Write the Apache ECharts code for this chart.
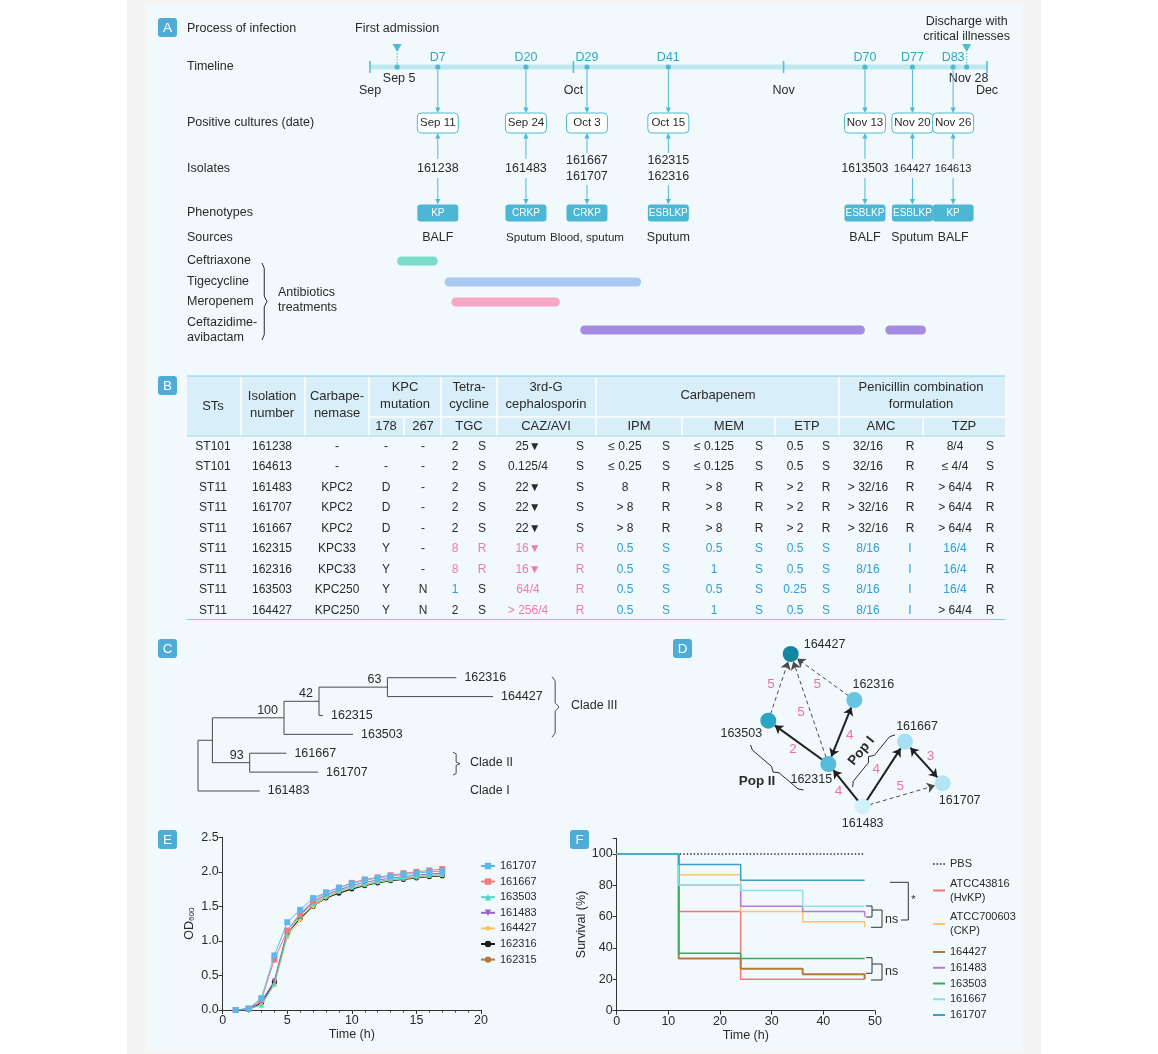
<!DOCTYPE html>
<html>
<head>
<meta charset="utf-8">
<title>Course of infection, MICs, phylogeny, transmission, growth and virulence</title>
<script src="https://cdn.jsdelivr.net/npm/echarts@6/dist/echarts.min.js"></script>
<style>
html,body{margin:0;padding:0;background:#ffffff;}
#chart{width:1158px;height:1054px;}
</style>
</head>
<body>
<div id="chart"></div>
<script>
// ======================= DATA =======================
// ---- Panel A (days counted from Sep 1 = day 0) ----
const monthNames = ['Sep', 'Oct', 'Nov', 'Dec'];
const monthStartDays = [0, 30, 61, 91];
const admissionDay = 4;            // Sep 5
const admissionDate = 'Sep 5';
const dischargeDay = 88;           // Nov 28
const dischargeDate = 'Nov 28';
const eventDays = [10, 23, 32, 44, 73, 80, 86];
const eventLabels = ['D7', 'D20', 'D29', 'D41', 'D70', 'D77', 'D83'];
const cultureDates = ['Sep 11', 'Sep 24', 'Oct 3', 'Oct 15', 'Nov 13', 'Nov 20', 'Nov 26'];
const eventIsolates = [['161238'], ['161483'], ['161667', '161707'], ['162315', '162316'], ['1613503'], ['164427'], ['164613']];
const phenotypes = ['KP', 'CRKP', 'CRKP', 'ESBLKP', 'ESBLKP', 'ESBLKP', 'KP'];
const sources = ['BALF', 'Sputum', 'Blood, sputum', 'Sputum', 'BALF', 'Sputum', 'BALF'];
const antibiotics = ['Ceftriaxone', 'Tigecycline', 'Meropenem', 'Ceftazidime-\navibactam'];
const treatmentDrug = [0, 1, 2, 3, 3];
const treatmentStart = [4, 11, 12, 31, 76];
const treatmentEnd = [10, 40, 28, 73, 82];

// ---- Panel B (MIC table) ----
const tableSTs = ['ST101', 'ST101', 'ST11', 'ST11', 'ST11', 'ST11', 'ST11', 'ST11', 'ST11'];
const tableIsolates = ['161238', '164613', '161483', '161707', '161667', '162315', '162316', '163503', '164427'];
const carbapenemase = ['-', '-', 'KPC2', 'KPC2', 'KPC2', 'KPC33', 'KPC33', 'KPC250', 'KPC250'];
const kpc178 = ['-', '-', 'D', 'D', 'D', 'Y', 'Y', 'Y', 'Y'];
const kpc267 = ['-', '-', '-', '-', '-', '-', '-', 'N', 'N'];
const tgcMIC = ['2', '2', '2', '2', '2', '8', '8', '1', '2'];
const tgcSIR = ['S', 'S', 'S', 'S', 'S', 'R', 'R', 'S', 'S'];
const cazMIC = ['25\u25BC', '0.125/4', '22\u25BC', '22\u25BC', '22\u25BC', '16\u25BC', '16\u25BC', '64/4', '> 256/4'];
const cazSIR = ['S', 'S', 'S', 'S', 'S', 'R', 'R', 'R', 'R'];
const ipmMIC = ['\u2264 0.25', '\u2264 0.25', '8', '> 8', '> 8', '0.5', '0.5', '0.5', '0.5'];
const ipmSIR = ['S', 'S', 'R', 'R', 'R', 'S', 'S', 'S', 'S'];
const memMIC = ['\u2264 0.125', '\u2264 0.125', '> 8', '> 8', '> 8', '0.5', '1', '0.5', '1'];
const memSIR = ['S', 'S', 'R', 'R', 'R', 'S', 'S', 'S', 'S'];
const etpMIC = ['0.5', '0.5', '> 2', '> 2', '> 2', '0.5', '0.5', '0.25', '0.5'];
const etpSIR = ['S', 'S', 'R', 'R', 'R', 'S', 'S', 'S', 'S'];
const amcMIC = ['32/16', '32/16', '> 32/16', '> 32/16', '> 32/16', '8/16', '8/16', '8/16', '8/16'];
const amcSIR = ['R', 'R', 'R', 'R', 'R', 'I', 'I', 'I', 'I'];
const tzpMIC = ['8/4', '\u2264 4/4', '> 64/4', '> 64/4', '> 64/4', '16/4', '16/4', '16/4', '> 64/4'];
const tzpSIR = ['S', 'S', 'R', 'R', 'R', 'R', 'R', 'R', 'R'];
// change markers per row: '+' raised resistance, '-' lowered, '.' unchanged
const tgcMICChange = '.....++-.', tgcSIRChange = '.....++..';
const cazMICChange = '.....++++', cazSIRChange = '.....++++';
const carbMICChange = '.....----', carbSIRChange = '.....----';
const amcMICChange = '.....----', amcSIRChange = '.....----';
const tzpMICChange = '.....---.', tzpSIRChange = '.........';

// ---- Panel C (phylogeny) ----
const treeNodeIds = ['root', 'n1', 'n2', 'n3', 'n4', '162316', '164427', '162315', '163503', 'n5', '161667', '161707', '161483'];
const treeParents = [null, 'root', 'n1', 'n2', 'n3', 'n4', 'n4', 'n3', 'n2', 'n1', 'n5', 'n5', 'root'];
const treeBranchLength = [0, 0.144, 0.716, 0.35, 0.684, 0.69, 1.056, 0.04, 0.69, 0.373, 0.367, 0.683, 0.617];
const treeSupport = [null, null, 100, 42, 63, null, null, null, null, 93, null, null, null];
const cladeNames = ['Clade III', 'Clade II', 'Clade I'];
const cladeLeaves = [['162316', '164427', '162315', '163503'], ['161667', '161707'], ['161483']];

// ---- Panel D (transmission network, layout) ----
const netNodes = ['164427', '162316', '163503', '161667', '162315', '161707', '161483'];
const netNodeX = [90.7, 154.3, 68.3, 205, 128.3, 242.7, 162.7];
const netNodeY = [14, 60, 80.7, 101.7, 124, 143.3, 166.7];
const netEdgeFrom = ['163503', '162315', '162316', '162315', '162315', '161483', '161483', '161667', '161483'];
const netEdgeTo = ['164427', '164427', '164427', '162316', '163503', '162315', '161667', '161707', '161707'];
const netEdgeSNPs = [5, 5, 5, 4, 2, 4, 4, 3, 5];
const netEdgeInferred = [true, true, true, false, false, false, false, false, true];
const netEdgeBidirectional = [false, false, false, true, false, false, false, true, false];

// ---- Panel E (growth curves, OD600) ----
const growthHours = [1, 2, 3, 4, 5, 6, 7, 8, 9, 10, 11, 12, 13, 14, 15, 16, 17];
const growthStrains = ['161707', '161667', '163503', '161483', '164427', '162316', '162315'];
const od161707 = [0.00, 0.02, 0.17, 0.79, 1.27, 1.45, 1.62, 1.70, 1.77, 1.83, 1.88, 1.91, 1.94, 1.96, 1.98, 2.00, 2.01];
const od161667 = [0.00, 0.02, 0.15, 0.73, 1.15, 1.40, 1.58, 1.70, 1.77, 1.84, 1.89, 1.92, 1.95, 1.98, 2.00, 2.02, 2.04];
const od163503 = [0.00, 0.01, 0.07, 0.38, 1.10, 1.37, 1.54, 1.65, 1.72, 1.78, 1.82, 1.86, 1.89, 1.91, 1.93, 1.95, 1.96];
const od161483 = [0.00, 0.02, 0.12, 0.42, 1.15, 1.38, 1.56, 1.67, 1.74, 1.80, 1.85, 1.88, 1.91, 1.93, 1.95, 1.97, 1.98];
const od164427 = [0.00, 0.01, 0.08, 0.36, 1.05, 1.30, 1.50, 1.63, 1.71, 1.77, 1.81, 1.85, 1.88, 1.90, 1.92, 1.94, 1.95];
const od162316 = [0.00, 0.01, 0.10, 0.40, 1.10, 1.33, 1.50, 1.62, 1.69, 1.75, 1.80, 1.84, 1.87, 1.89, 1.91, 1.93, 1.94];
const od162315 = [0.00, 0.01, 0.09, 0.42, 1.12, 1.32, 1.52, 1.63, 1.70, 1.76, 1.81, 1.85, 1.88, 1.90, 1.92, 1.94, 1.95];

// ---- Panel F (survival, %) ----
const survivalHours = [0, 12, 24, 36, 48];
const survivalGroups = ['PBS', 'ATCC43816 (HvKP)', 'ATCC700603 (CKP)', '164427', '161483', '163503', '161667', '161707'];
const survPBS = [100, 100, 100, 100, 100];
const survATCC43816 = [100, 63.3, 20, 20, 20];
const survATCC700603 = [100, 86.7, 63.3, 56.7, 53.3];
const surv164427 = [100, 33.3, 26.7, 23.3, 20];
const surv161483 = [100, 80, 66.7, 63.3, 60];
const surv163503 = [100, 36.7, 33.3, 33.3, 33.3];
const surv161667 = [100, 80, 76.7, 66.7, 66.7];
const surv161707 = [100, 93.3, 83.3, 83.3, 83.3];

// ======================= STYLE / LAYOUT =======================
const FONT = '"Liberation Sans", Arial, Helvetica, sans-serif';
const INK = '#2a2a2a';
const CYAN = '#4fb9d2';
const TEAL_TXT = '#2ea8bf';
const PINK = '#f07ba6';
const BLUE = '#2f9fd6';
const fnt = (s, w) => (w || 'normal') + ' ' + s + 'px ' + FONT;

const measureCtx = document.createElement('canvas').getContext('2d');
function textWidth(s, size) {
  measureCtx.font = size + 'px ' + FONT;
  return Math.max.apply(null, String(s).split('\n').map(l => measureCtx.measureText(l).width));
}
// largest font (<= base) for label i so that it does not collide with its centred neighbours
function labelFont(labels, xs, i, base, pad) {
  let f = base;
  [i - 1, i + 1].forEach(j => {
    if (j < 0 || j >= xs.length) return;
    const w = (textWidth(labels[i], base) + textWidth(labels[j], base)) / 2;
    const gap = Math.abs(xs[j] - xs[i]);
    if (w + pad > gap) f = Math.min(f, base * (gap - pad) / w);
  });
  return Math.round(f * 10) / 10;
}

function txt(x, y, text, size, o) {
  o = o || {};
  const st = { text: text, fill: o.fill || INK, font: fnt(size, o.weight),
    align: o.align || 'center', textAlign: o.align || 'center',
    verticalAlign: o.va || 'middle', textVerticalAlign: o.va || 'middle' };
  if (o.lineHeight) st.lineHeight = o.lineHeight;
  const el = { type: 'text', x: x, y: y, style: st };
  if (o.rotation) el.rotation = o.rotation;
  if (o.z != null) el.z = o.z;
  return el;
}
function arrowEls(x, y1, y2, color) {
  const d = y2 > y1 ? 1 : -1;
  return [
    { type: 'line', shape: { x1: x, y1: y1, x2: x, y2: y2 - d * 4 }, style: { stroke: color, lineWidth: 1 } },
    { type: 'polygon', shape: { points: [[x - 2.6, y2 - d * 5.5], [x + 2.6, y2 - d * 5.5], [x, y2]] }, style: { fill: color } }
  ];
}
// brace along P1->P2 bulging by depth toward normal side (sign)
function bracePts(p1, p2, depth, sign) {
  const dx = p2[0] - p1[0], dy = p2[1] - p1[1], L = Math.hypot(dx, dy);
  const nx = -dy / L * sign, ny = dx / L * sign;
  const prof = [[0, 0], [0.07, 0.45], [0.43, 0.45], [0.5, 1], [0.57, 0.45], [0.93, 0.45], [1, 0]];
  return prof.map(p => [p1[0] + dx * p[0] + nx * depth * p[1], p1[1] + dy * p[0] + ny * depth * p[1]]);
}

// ---------- graphic (backgrounds, labels, headers, annotations) ----------
const G = [];
G.push({ type: 'rect', z: -20, shape: { x: 127, y: 0, width: 914, height: 1054 }, style: { fill: '#f4f4f4' } });
G.push({ type: 'rect', z: -19, shape: { x: 147, y: 5, width: 874, height: 1046 }, style: { fill: '#f1f9fd' } });
[['A', 158, 18], ['B', 158, 376], ['C', 158, 639], ['D', 673, 639], ['E', 158, 830], ['F', 570, 830]].forEach(b => {
  G.push({ type: 'rect', z: 5, shape: { x: b[1], y: b[2], width: 19, height: 19, r: 3 }, style: { fill: '#4eacd7' } });
  G.push(txt(b[1] + 9.5, b[2] + 10, b[0], 13.5, { fill: '#ffffff', z: 6 }));
});
// Panel A row labels
[['Process of infection', 29], ['Timeline', 67], ['Positive cultures (date)', 123], ['Isolates', 169], ['Phenotypes', 213], ['Sources', 238]]
  .forEach(r => G.push(txt(187, r[1], r[0], 12.5, { align: 'left', z: 10 })));
const drugRowY = [261, 282, 302, 330];
antibiotics.forEach((d, i) => G.push(txt(187, drugRowY[i], d, 12.5, { align: 'left', lineHeight: 15, z: 10 })));
G.push({ type: 'polyline', z: 10, shape: { points: bracePts([262, 263], [262, 340], 5, -1) }, style: { stroke: INK, lineWidth: 1, fill: null } });
G.push(txt(278, 300.5, 'Antibiotics\ntreatments', 12.5, { align: 'left', lineHeight: 15, z: 10 }));

// Panel B header
G.push({ type: 'rect', z: -5, shape: { x: 187, y: 376, width: 818, height: 60 }, style: { fill: '#d8eef8' } });
G.push({ type: 'line', z: -4, shape: { x1: 187, y1: 376, x2: 1005, y2: 376 }, style: { stroke: '#86cbe4', lineWidth: 1.2 } });
G.push({ type: 'line', z: -4, shape: { x1: 187, y1: 436, x2: 1005, y2: 436 }, style: { stroke: '#9fd6ea', lineWidth: 1 } });
G.push({ type: 'line', z: -4, shape: { x1: 187, y1: 619.5, x2: 1005, y2: 619.5 }, style: { stroke: '#86cbe4', lineWidth: 1.2 } });
[241, 305, 369, 441, 497, 596, 839].forEach(x => G.push({ type: 'line', z: -4, shape: { x1: x, y1: 377, x2: x, y2: 435.5 }, style: { stroke: '#ffffff', lineWidth: 1.5 } }));
G.push({ type: 'line', z: -4, shape: { x1: 369, y1: 417, x2: 1005, y2: 417 }, style: { stroke: '#ffffff', lineWidth: 1.5 } });
[404, 682, 775, 923].forEach(x => G.push({ type: 'line', z: -4, shape: { x1: x, y1: 417, x2: x, y2: 435.5 }, style: { stroke: '#ffffff', lineWidth: 1.5 } }));
[['STs', 213, 406], ['Isolation\nnumber', 272, 405], ['Carbape-\nnemase', 337, 405], ['KPC\nmutation', 405, 395.5], ['Tetra-\ncycline', 469, 395.5],
 ['3rd-G\ncephalosporin', 546, 395.5], ['Carbapenem', 718, 395.5], ['Penicillin combination\nformulation', 921, 395.5],
 ['178', 386, 426.5], ['267', 423, 426.5], ['TGC', 469, 426.5], ['CAZ/AVI', 546, 426.5], ['IPM', 639, 426.5], ['MEM', 729, 426.5],
 ['ETP', 807, 426.5], ['AMC', 881, 426.5], ['TZP', 964, 426.5]]
  .forEach(h => G.push(txt(h[1], h[2], h[0], 13, { lineHeight: 17, z: 10 })));

// Panel D annotations
G.push(txt(861.5, 751, 'Pop I', 13.5, { weight: 'bold', rotation: 0.88, z: 10 }));
G.push({ type: 'polyline', z: 10, shape: { points: bracePts([852.7, 787], [895, 735], 7, -1) }, style: { stroke: INK, lineWidth: 1, fill: null } });
G.push(txt(757, 781, 'Pop II', 13.5, { weight: 'bold', z: 10 }));
G.push({ type: 'polyline', z: 10, shape: { points: bracePts([750.5, 745], [803.5, 790], 6, 1) }, style: { stroke: INK, lineWidth: 1, fill: null } });

// Panel F significance brackets
const BR = '#333';
[[[866, 906], [872, 906], [872, 917], [866, 917]], [[872, 910], [882, 910], [882, 927.3], [871, 927.3]],
 [[890, 882.3], [908.3, 882.3], [908.3, 920], [901, 920]],
 [[866, 957.7], [872, 957.7], [872, 973.3], [866, 973.3]], [[872, 964], [882, 964], [882, 980], [871, 980]]]
  .forEach(p => G.push({ type: 'polyline', z: 10, shape: { points: p }, style: { stroke: BR, lineWidth: 1, fill: null } }));
G.push(txt(885, 919.5, 'ns', 12.5, { align: 'left', z: 10 }));
G.push(txt(885, 972, 'ns', 12.5, { align: 'left', z: 10 }));
G.push(txt(913.5, 900, '*', 11, { z: 10 }));

// ======================= SERIES =======================
const Y = { capt: 29, dlab: 58, tl: 67, sub: 79, month: 91, cult: 123, iso: 169, phen: 213, src: 238 };
const drugColors = ['#7adccb', '#a9c8f2', '#f7a7c6', '#a68ce0'];
const series = [];

// --- A: timeline bar
series.push({ type: 'line', xAxisIndex: 0, yAxisIndex: 0, silent: true, symbol: 'none',
  data: [[monthStartDays[0], Y.tl], [monthStartDays[monthStartDays.length - 1], Y.tl]],
  lineStyle: { color: '#bfe7f0', width: 5 }, z: 1 });
// --- A: month ticks + labels
series.push({ type: 'custom', xAxisIndex: 0, yAxisIndex: 0, silent: true,
  data: monthStartDays.map(d => [d, Y.tl]),
  renderItem: (p, api) => {
    const c = api.coord([monthStartDays[p.dataIndex], Y.tl]);
    const ym = api.coord([0, Y.month])[1];
    return { type: 'group', children: [
      { type: 'line', shape: { x1: c[0], y1: c[1] - 6, x2: c[0], y2: c[1] + 6 }, style: { stroke: '#5bbfd3', lineWidth: 1.6 } },
      txt(c[0], ym, monthNames[p.dataIndex], 12.5)
    ] };
  } });
// --- A: admission / discharge
const stayDays = [admissionDay, dischargeDay];
const stayCaptions = ['First admission', 'Discharge with\ncritical illnesses'];
const stayDates = [admissionDate, dischargeDate];
series.push({ type: 'custom', xAxisIndex: 0, yAxisIndex: 0, silent: true,
  data: stayDays.map(d => [d, Y.tl]),
  renderItem: (p, api) => {
    const i = p.dataIndex;
    const x = api.coord([stayDays[i], Y.tl])[0];
    const y = v => api.coord([0, v])[1];
    return { type: 'group', children: [
      txt(x, y(Y.capt), stayCaptions[i], 12.5, { lineHeight: 15 }),
      { type: 'polygon', shape: { points: [[x - 4.5, y(44)], [x + 4.5, y(44)], [x, y(52)]] }, style: { fill: CYAN } },
      { type: 'line', shape: { x1: x, y1: y(53), x2: x, y2: y(65) }, style: { stroke: CYAN, lineWidth: 1, lineDash: [1.5, 1.5] } },
      { type: 'circle', shape: { cx: x, cy: y(Y.tl), r: 2.6 }, style: { fill: CYAN } },
      txt(x + 2, y(Y.sub), stayDates[i], 12.5)
    ] };
  } });
// --- A: events (day label, arrows, isolates, sources)
series.push({ type: 'custom', xAxisIndex: 0, yAxisIndex: 0, silent: true,
  data: eventDays.map(d => [d, Y.tl]),
  renderItem: (p, api) => {
    const i = p.dataIndex;
    const xs = eventDays.map(d => api.coord([d, Y.tl])[0]);
    const x = xs[i];
    const y = v => api.coord([0, v])[1];
    const isoLabels = eventIsolates.map(a => a.join('\n'));
    const isoFont = labelFont(isoLabels, xs, i, 12.5, 4);
    const srcFont = labelFont(sources, xs, i, 12.5, 4);
    const two = eventIsolates[i].length > 1;
    let ch = [
      { type: 'circle', shape: { cx: x, cy: y(Y.tl), r: 2.6 }, style: { fill: CYAN } },
      txt(x, y(Y.dlab), eventLabels[i], 12.5, { fill: TEAL_TXT })
    ];
    ch = ch.concat(arrowEls(x, y(Y.tl + 3), y(Y.cult - 10), CYAN));
    ch = ch.concat(arrowEls(x, y(Y.iso - (two ? 16 : 10)), y(Y.cult + 10), CYAN));
    ch.push(txt(x, y(Y.iso), isoLabels[i], isoFont, { lineHeight: 16 }));
    ch = ch.concat(arrowEls(x, y(Y.iso + (two ? 16 : 9)), y(Y.phen - 8.5), CYAN));
    ch.push(txt(x, y(Y.src), sources[i], srcFont));
    return { type: 'group', children: ch };
  } });
// --- A: positive culture date boxes
series.push({ type: 'custom', xAxisIndex: 0, yAxisIndex: 0, silent: true,
  data: eventDays.map(d => [d, Y.cult]),
  renderItem: (p, api) => {
    const c = api.coord([eventDays[p.dataIndex], Y.cult]);
    return { type: 'group', children: [
      { type: 'rect', shape: { x: c[0] - 20.5, y: c[1] - 10, width: 41, height: 20, r: 4 }, style: { fill: '#ffffff', stroke: CYAN, lineWidth: 1 } },
      txt(c[0], c[1], cultureDates[p.dataIndex], 11.5)
    ] };
  } });
// --- A: phenotype boxes
series.push({ type: 'custom', xAxisIndex: 0, yAxisIndex: 0, silent: true,
  data: eventDays.map(d => [d, Y.phen]),
  renderItem: (p, api) => {
    const c = api.coord([eventDays[p.dataIndex], Y.phen]);
    return { type: 'group', children: [
      { type: 'rect', shape: { x: c[0] - 20.5, y: c[1] - 8.5, width: 41, height: 17, r: 3 }, style: { fill: '#4cb7d4' } },
      txt(c[0], c[1] + 0.5, phenotypes[p.dataIndex], 10, { fill: '#ffffff' })
    ] };
  } });
// --- A: antibiotic treatment bars
series.push({ type: 'custom', xAxisIndex: 0, yAxisIndex: 0, silent: true,
  data: treatmentStart.map((s, i) => [s, drugRowY[treatmentDrug[i]]]),
  renderItem: (p, api) => {
    const i = p.dataIndex, row = drugRowY[treatmentDrug[i]];
    const s = api.coord([treatmentStart[i], row]), e = api.coord([treatmentEnd[i], row]);
    return { type: 'rect', shape: { x: s[0], y: s[1] - 4.5, width: e[0] - s[0], height: 9, r: 4.5 }, style: { fill: drugColors[treatmentDrug[i]] } };
  } });

// --- B: table cells
const tableCols = [
  { v: tableSTs, x: 213 }, { v: tableIsolates, x: 272 }, { v: carbapenemase, x: 337 }, { v: kpc178, x: 386 }, { v: kpc267, x: 423 },
  { v: tgcMIC, x: 455, f: tgcMICChange }, { v: tgcSIR, x: 482, f: tgcSIRChange },
  { v: cazMIC, x: 528, f: cazMICChange }, { v: cazSIR, x: 580, f: cazSIRChange },
  { v: ipmMIC, x: 625, f: carbMICChange }, { v: ipmSIR, x: 666, f: carbSIRChange },
  { v: memMIC, x: 714, f: carbMICChange }, { v: memSIR, x: 759, f: carbSIRChange },
  { v: etpMIC, x: 795, f: carbMICChange }, { v: etpSIR, x: 826, f: carbSIRChange },
  { v: amcMIC, x: 868, f: amcMICChange }, { v: amcSIR, x: 910, f: amcSIRChange },
  { v: tzpMIC, x: 955, f: tzpMICChange }, { v: tzpSIR, x: 990, f: tzpSIRChange }
];
const tableCells = [];
tableCols.forEach((c, ci) => c.v.forEach((val, ri) => tableCells.push([ci, ri])));
series.push({ type: 'custom', xAxisIndex: 1, yAxisIndex: 1, silent: true,
  data: tableCells.map(c => [tableCols[c[0]].x, c[1]]),
  renderItem: (p, api) => {
    const cell = tableCells[p.dataIndex], col = tableCols[cell[0]], r = cell[1];
    const pt = api.coord([col.x, r]);
    const flag = col.f ? col.f[r] : '.';
    const color = flag === '+' ? PINK : (flag === '-' ? BLUE : INK);
    return txt(pt[0], pt[1], col.v[r], 12, { fill: color });
  } });

// --- C: phylogenetic tree
function layoutTree() {
  const children = {};
  treeNodeIds.forEach(id => { children[id] = []; });
  treeParents.forEach((p, i) => { if (p) children[p].push(treeNodeIds[i]); });
  const pos = {};
  let leaf = 0;
  (function walk(id, x0) {
    const i = treeNodeIds.indexOf(id);
    const x = x0 + treeBranchLength[i];
    const ch = children[id];
    if (!ch.length) { pos[id] = { x: x, y: leaf++ }; return; }
    ch.forEach(c => walk(c, x));
    const ys = ch.map(c => pos[c].y);
    pos[id] = { x: x, y: (Math.min.apply(null, ys) + Math.max.apply(null, ys)) / 2, y0: Math.min.apply(null, ys), y1: Math.max.apply(null, ys) };
  })('root', 0);
  return { pos: pos, children: children };
}
const TREE = layoutTree();
const cladeBraceX = [3.54, 2.55, null];
const cladeLabelX = [3.73, 2.72, 2.72];
series.push({ type: 'custom', xAxisIndex: 2, yAxisIndex: 2, silent: true,
  data: [[0, 0]],
  renderItem: (p, api) => {
    const P = TREE.pos, ch = [];
    const L = '#4a4a4a';
    treeNodeIds.forEach((id, i) => {
      const n = P[id];
      const parent = treeParents[i];
      if (parent) {
        const a = api.coord([P[parent].x, n.y]), b = api.coord([n.x, n.y]);
        ch.push({ type: 'line', shape: { x1: a[0], y1: a[1], x2: b[0], y2: b[1] }, style: { stroke: L, lineWidth: 1 } });
      }
      if (TREE.children[id].length) {
        const a = api.coord([n.x, n.y0]), b = api.coord([n.x, n.y1]);
        ch.push({ type: 'line', shape: { x1: a[0], y1: a[1], x2: b[0], y2: b[1] }, style: { stroke: L, lineWidth: 1 } });
        if (treeSupport[i] != null) {
          const c = api.coord([n.x, n.y]);
          ch.push(txt(c[0] - 6, c[1] - 7.5, String(treeSupport[i]), 12.5, { align: 'right' }));
        }
      } else {
        const c = api.coord([n.x, n.y]);
        ch.push(txt(c[0] + 8, c[1], id, 12.5, { align: 'left' }));
      }
    });
    cladeNames.forEach((nm, k) => {
      const ys = cladeLeaves[k].map(l => P[l].y);
      const yTop = Math.min.apply(null, ys), yBot = Math.max.apply(null, ys);
      const mid = api.coord([cladeLabelX[k], (yTop + yBot) / 2]);
      if (cladeBraceX[k] != null) {
        const t = api.coord([cladeBraceX[k], yTop]), b = api.coord([cladeBraceX[k], yBot]);
        ch.push({ type: 'polyline', shape: { points: bracePts([t[0], t[1] - 1], [b[0], b[1] + 3], 7, -1) }, style: { stroke: L, lineWidth: 1, fill: null } });
      }
      ch.push(txt(mid[0], mid[1], nm, 12.5, { align: 'left' }));
    });
    return { type: 'group', children: ch };
  } });

// --- D: transmission network
const nodeShade = ['#13879f', '#68c5e1', '#27a7c3', '#a8e0f3', '#55bbd9', '#b3e5f5', '#d2f0f9'];
const nodeLabelPos = [
  { position: 'right', offset: [0, -9] }, { position: 'top', offset: [19, 4] }, { position: 'bottom', offset: [-27, -7] },
  { position: 'top', offset: [12, 4] }, { position: 'bottom', offset: [-17, -4] }, { position: 'bottom', offset: [17, -2] },
  { position: 'bottom', offset: [0, -3] }];
const edgeLabelSide = [-1, -1, -1, 1, -1, -1, -1, -1, -1];
series.push({ type: 'graph', coordinateSystem: 'cartesian2d', xAxisIndex: 3, yAxisIndex: 3, silent: true,
  data: netNodes.map((n, i) => ({ name: n, value: [netNodeX[i], netNodeY[i]], symbolSize: 16,
    itemStyle: { color: nodeShade[i] },
    label: Object.assign({ show: true, fontSize: 12.5, color: INK, fontFamily: FONT, distance: 5 }, nodeLabelPos[i]) })),
  links: netEdgeFrom.map((s, i) => ({ source: s, target: netEdgeTo[i],
    symbol: netEdgeBidirectional[i] ? ['arrow', 'arrow'] : ['none', 'arrow'],
    lineStyle: netEdgeInferred[i] ? { type: [4, 3], width: 1, color: '#4a4a4a' } : { type: 'solid', width: 2, color: '#1f1f1f' } })),
  edgeSymbol: ['none', 'arrow'], edgeSymbolSize: [8, 8],
  lineStyle: { opacity: 1, curveness: 0 }, emphasis: { disabled: true }, z: 3 });
series.push({ type: 'custom', xAxisIndex: 3, yAxisIndex: 3, silent: true,
  data: netEdgeSNPs.map((v, i) => [0, 0]),
  renderItem: (p, api) => {
    const i = p.dataIndex;
    const a = netNodes.indexOf(netEdgeFrom[i]), b = netNodes.indexOf(netEdgeTo[i]);
    const p1 = api.coord([netNodeX[a], netNodeY[a]]), p2 = api.coord([netNodeX[b], netNodeY[b]]);
    const dx = p2[0] - p1[0], dy = p2[1] - p1[1], Ln = Math.hypot(dx, dy), s = edgeLabelSide[i];
    const nx = -dy / Ln * s, ny = dx / Ln * s;
    return txt((p1[0] + p2[0]) / 2 + nx * 9, (p1[1] + p2[1]) / 2 + ny * 9, String(netEdgeSNPs[i]), 13.5, { fill: '#ef6f9f' });
  } });

// --- E: growth curves
const growthData = [od161707, od161667, od163503, od161483, od164427, od162316, od162315];
const growthColor = ['#5db6ec', '#f07b7b', '#56d4c4', '#9c63c9', '#f8c35c', '#1a1a1a', '#b47a3c'];
const growthSymbol = ['rect', 'rect', 'triangle', 'path://M0,0L10,0L5,9Z', 'diamond', 'circle', 'circle'];
growthStrains.forEach((nm, k) => series.push({ type: 'line', name: nm, xAxisIndex: 4, yAxisIndex: 4, silent: true,
  data: growthHours.map((h, j) => [h, growthData[k][j]]),
  symbol: growthSymbol[k], symbolSize: k < 2 ? 6 : 5, showAllSymbol: true,
  itemStyle: { color: growthColor[k] }, lineStyle: { color: growthColor[k], width: 1 }, z: 10 - k }));

// --- F: survival curves
const survData = [survPBS, survATCC43816, survATCC700603, surv164427, surv161483, surv163503, surv161667, surv161707];
const survColor = ['#333333', '#f37676', '#fbc46e', '#b37a3b', '#b77ad6', '#3fa65c', '#86e3e0', '#3b9ecb'];
const survName = g => 'survival:' + g;
survivalGroups.forEach((g, k) => series.push({ type: 'line', name: survName(g), xAxisIndex: 5, yAxisIndex: 5, silent: true,
  step: 'end', symbol: 'none',
  data: survivalHours.map((h, j) => [h, survData[k][j]]),
  itemStyle: { color: survColor[k] },
  lineStyle: { color: survColor[k], width: k === 3 ? 2 : 1.5, type: k === 0 ? [1.5, 2] : 'solid' }, z: 2 + k }));
const dottedIcon = 'path://M0,0h2v2h-2zM4,0h2v2h-2zM8,0h2v2h-2zM12,0h2v2h-2z';
const survLegendItem = g => ({ name: survName(g), icon: g === 'PBS' ? dottedIcon : 'rect' });

// ======================= AXES =======================
const hidden = (gi, min, max, inverse) => ({ type: 'value', gridIndex: gi, min: min, max: max, inverse: !!inverse, show: false });
const axisCommon = {
  axisLine: { show: true, lineStyle: { color: '#333', width: 1 } },
  axisTick: { show: true, length: 4, lineStyle: { color: '#333' } },
  splitLine: { show: false },
  axisLabel: { color: '#2a2a2a', fontSize: 12.5, fontFamily: FONT, margin: 4 },
  nameTextStyle: { color: '#2a2a2a', fontSize: 12.5, fontFamily: FONT }
};
const ax = o => Object.assign({}, JSON.parse(JSON.stringify(axisCommon)), o);

const option = {
  animation: false,
  backgroundColor: '#ffffff',
  textStyle: { fontFamily: FONT },
  tooltip: { show: false },
  grid: [
    { left: 370, top: 0, width: 617, height: 1054 },
    { left: 0, top: 436, width: 1158, height: 185 },
    { left: 198, top: 677.7, width: 500, height: 113.3 },
    { left: 700, top: 640, width: 300, height: 190 },
    { left: 222.7, top: 837.3, width: 258.3, height: 172.7 },
    { left: 616.7, top: 838.3, width: 258.3, height: 172.4 }
  ],
  xAxis: [
    hidden(0, 0, 91),
    hidden(1, 0, 1158),
    hidden(2, 0, 5),
    hidden(3, 0, 300),
    ax({ type: 'value', gridIndex: 4, min: 0, max: 20, interval: 5,
      minorTick: { show: true, splitNumber: 5, length: 2.5, lineStyle: { color: '#333' } },
      name: 'Time (h)', nameLocation: 'middle', nameGap: 17 }),
    ax({ type: 'value', gridIndex: 5, min: 0, max: 50, interval: 10,
      name: 'Time (h)', nameLocation: 'middle', nameGap: 17 })
  ],
  yAxis: [
    hidden(0, 0, 1054, true),
    { type: 'category', gridIndex: 1, data: tableIsolates, inverse: true, show: false },
    hidden(2, 0, 6, true),
    hidden(3, 0, 190, true),
    ax({ type: 'value', gridIndex: 4, min: 0, max: 2.5, interval: 0.5,
      axisLabel: { color: '#2a2a2a', fontSize: 12.5, fontFamily: FONT, margin: 4, formatter: v => v.toFixed(1) },
      name: 'OD{s|600}', nameLocation: 'middle', nameRotate: 90, nameGap: 27,
      nameTextStyle: { color: '#2a2a2a', fontSize: 12.5, fontFamily: FONT, rich: { s: { fontSize: 8, padding: [5, 0, 0, 0], fontFamily: FONT, color: '#2a2a2a' } } } }),
    ax({ type: 'value', gridIndex: 5, min: 0, max: 110, interval: 20,
      axisLabel: { color: '#2a2a2a', fontSize: 12.5, fontFamily: FONT, margin: 4, formatter: v => (v > 100 ? '' : String(v)) },
      name: 'Survival (%)', nameLocation: 'middle', nameRotate: 90, nameGap: 27 })
  ],
  legend: [
    { orient: 'vertical', left: 475, top: 855, itemWidth: 14, itemHeight: 8, itemGap: 3.6, selectedMode: false,
      textStyle: { fontSize: 11, lineHeight: 12, color: '#2a2a2a', fontFamily: FONT },
      data: growthStrains },
    { orient: 'vertical', left: 928, top: 852, itemWidth: 12, itemHeight: 2, itemGap: 5.5, selectedMode: false,
      textStyle: { fontSize: 11, lineHeight: 14, color: '#2a2a2a', fontFamily: FONT },
      formatter: n => n.replace('survival:', '').replace(' (', '\n('),
      data: survivalGroups.slice(0, 3).map(survLegendItem) },
    { orient: 'vertical', left: 928, top: 941, itemWidth: 12, itemHeight: 2, itemGap: 3.75, selectedMode: false,
      textStyle: { fontSize: 11, lineHeight: 12, color: '#2a2a2a', fontFamily: FONT },
      formatter: n => n.replace('survival:', ''),
      data: survivalGroups.slice(3).map(survLegendItem) }
  ],
  graphic: { elements: G },
  series: series
};

const chart = echarts.init(document.getElementById('chart'));
chart.setOption(option);
</script>
</body>
</html>
